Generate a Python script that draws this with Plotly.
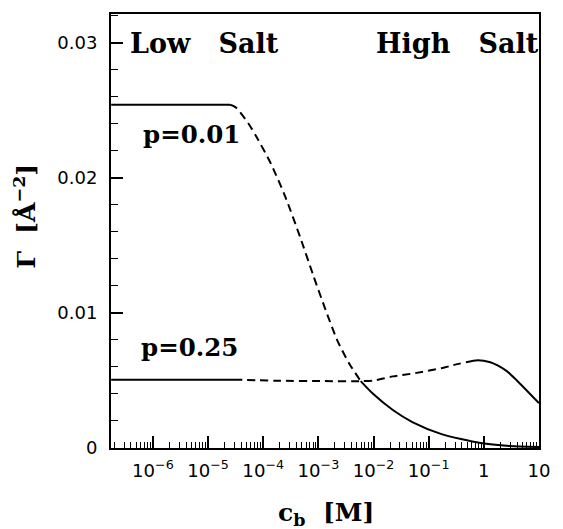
import plotly.graph_objects as go

# ---- data (c_b in M, Gamma in 1/A^2) ----
p001_low_c = [1.75e-7, 2.51e-5]
p001_low_g = [0.02540, 0.02540]
p001_mid_c = [2.51e-5, 3.08e-5, 3.77e-5, 5.43e-5, 7.52e-5, 1.38e-4, 2.55e-4, 4.69e-4,
              7.96e-4, 1.30e-3, 2.20e-3, 3.59e-3, 5.85e-3]
p001_mid_g = [0.02540, 0.02525, 0.02488, 0.02400, 0.02304, 0.02104, 0.01853, 0.01558,
              0.01285, 0.01041, 0.00797, 0.00628, 0.00495]
p001_high_c = [5.85e-3, 9.9e-3, 0.0224, 0.0505, 0.171, 0.871, 2.95, 10.0]
p001_high_g = [0.00495, 0.00399, 0.00281, 0.00192, 0.00103, 0.00037, 0.00015, 0.00007]

p025_low_c = [1.75e-7, 2.95e-5]
p025_low_g = [0.00506, 0.00506]
p025_mid_c = [2.95e-5, 1.70e-4, 1.30e-3, 5.85e-3, 9.9e-3, 0.0224, 0.0570, 0.171, 0.279, 0.473]
p025_mid_g = [0.00506, 0.00498, 0.00495, 0.00495, 0.00498, 0.00530, 0.00554, 0.00591, 0.00613, 0.00635]
p025_high_c = [0.473, 0.771, 1.31, 1.74, 2.61, 3.93, 10.0]
p025_high_g = [0.00635, 0.00650, 0.00635, 0.00613, 0.00569, 0.00502, 0.00332]

y_tickvals = [0, 0.01, 0.02, 0.03]
y_ticktext = ["0", "0.01", "0.02", "0.03"]

labels = [
    ("Low&nbsp;&nbsp; Salt", 0.040, 0.931, "left", 27),
    ("High&nbsp;&nbsp; Salt", 1.004, 0.931, "right", 27),
    ("p=0.01", 0.0706, 0.722, "left", 24.5),
    ("p=0.25", 0.066, 0.232, "left", 24.5),
]

LINE = dict(color="black", width=2)
DASH = dict(color="black", width=2, dash="8px,5px")

fig = go.Figure()
for cx, gy, st in [
    (p001_low_c, p001_low_g, LINE), (p001_mid_c, p001_mid_g, DASH), (p001_high_c, p001_high_g, LINE),
    (p025_low_c, p025_low_g, LINE), (p025_mid_c, p025_mid_g, DASH), (p025_high_c, p025_high_g, LINE),
]:
    fig.add_trace(go.Scatter(x=cx, y=gy, mode="lines", line=dict(st, shape="spline", smoothing=0.7),
                             showlegend=False, hoverinfo="skip"))

serif = "DejaVu Serif"
for txt, x, y, anc, sz in labels:
    fig.add_annotation(text="<b>" + txt + "</b>", x=x, y=y, xref="paper", yref="paper",
                       xanchor=anc, yanchor="middle", showarrow=False,
                       font=dict(family=serif, size=sz, color="black"))

fig.add_annotation(text="<b>Γ&nbsp; [Å<sup>−2</sup>]</b>", x=-0.2005, y=0.533, xref="paper", yref="paper",
                   textangle=-90, xanchor="center", yanchor="middle", showarrow=False,
                   font=dict(family=serif, size=25, color="black"))
fig.add_annotation(text="<b>c<sub>b</sub>&nbsp; [M]</b>", x=0.503, y=-0.152, xref="paper", yref="paper",
                   xanchor="center", yanchor="middle", showarrow=False,
                   font=dict(family=serif, size=25, color="black"))

fig.update_xaxes(type="log", range=[-6.76, 1.0], dtick=1, exponentformat="power",
                 ticks="inside", ticklen=12, tickwidth=1.5, tickcolor="black",
                 minor=dict(dtick="D1", ticks="inside", ticklen=6, tickwidth=1, tickcolor="black", showgrid=False),
                 showline=True, linecolor="black", linewidth=2, mirror=True, showgrid=False, zeroline=False,
                 tickfont=dict(family="DejaVu Sans", size=14.5, color="black"), ticklabelstandoff=6)
fig.update_yaxes(range=[0, 0.03212], tickvals=y_tickvals, ticktext=y_ticktext,
                 ticks="inside", ticklen=12, tickwidth=1.5, tickcolor="black",
                 minor=dict(dtick=0.002, tick0=0, ticks="inside", ticklen=7, tickwidth=1, tickcolor="black", showgrid=False),
                 showline=True, linecolor="black", linewidth=2, mirror=True, showgrid=False, zeroline=False,
                 tickfont=dict(family="DejaVu Sans", size=18, color="black"), ticklabelstandoff=8)

fig.update_layout(width=563, height=529, margin=dict(l=111, r=13, t=13, b=81),
                  plot_bgcolor="white", paper_bgcolor="white")
fig.write_html("out.html")
